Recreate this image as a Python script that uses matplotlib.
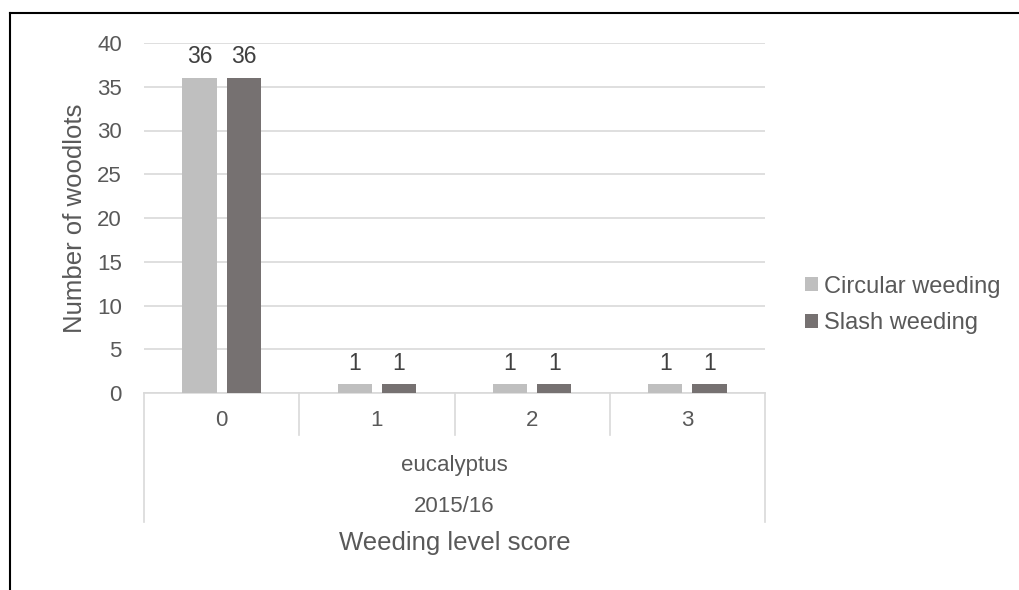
import matplotlib
matplotlib.use('Agg')
import matplotlib.pyplot as plt
import numpy as np

# data
scores = ['0', '1', '2', '3']
circular = [36, 1, 1, 1]
slash = [36, 1, 1, 1]
series_names = ['Circular weeding', 'Slash weeding']
group_label = 'eucalyptus'
year_label = '2015/16'

plt.rcParams['font.family'] = ['Liberation Sans', 'DejaVu Sans']
txt = '#595959'
c_light = '#BFBFBF'
c_dark = '#767171'

W, H = 1020, 590
fig = plt.figure(figsize=(W/100, H/100), dpi=100)

def fx(px): return px / W
def fy(py): return 1 - py / H

# outer frame lines (top and left only)
fig.add_artist(plt.Line2D([fx(10), fx(1020)], [fy(13), fy(13)], color='black', lw=1.5))
fig.add_artist(plt.Line2D([fx(10), fx(10)], [fy(13), fy(590)], color='black', lw=1.5))

x0, x1, ytop, ybot = 144, 765, 43, 393
ax = fig.add_axes([fx(x0), fy(ybot), fx(x1) - fx(x0), fy(ytop) - fy(ybot)])

x = np.arange(len(scores))
bw = 0.22
gap = 0.065
ax.bar(x - (bw + gap)/2, circular, bw, color=c_light, label=series_names[0], zorder=3)
ax.bar(x + (bw + gap)/2, slash, bw, color=c_dark, label=series_names[1], zorder=3)
for xi, v in zip(x, circular):
    ax.text(xi - (bw + gap)/2, v + 1.1, str(v), ha='center', va='bottom', fontsize=16.5, color='#404040')
for xi, v in zip(x, slash):
    ax.text(xi + (bw + gap)/2, v + 1.1, str(v), ha='center', va='bottom', fontsize=16.5, color='#404040')

ax.set_xlim(-0.5, len(scores) - 0.5)
ax.set_ylim(0, 40)
ax.set_yticks(range(0, 41, 5))
ax.tick_params(axis='y', length=0, labelsize=16, labelcolor=txt, pad=16)
ax.set_xticks([])
ax.yaxis.grid(True, color='#D9D9D9', lw=1.2, zorder=0)
for s in ['top', 'right', 'left']:
    ax.spines[s].set_visible(False)
ax.spines['bottom'].set_color('#D9D9D9')
ax.spines['bottom'].set_linewidth(1.2)
ax.set_ylabel('Number of woodlots', fontsize=18.5, color=txt, labelpad=7)

# multi-level category axis
bounds = np.linspace(x0, x1, len(scores) + 1)
for i, b in enumerate(bounds):
    yb = 522 if i in (0, len(bounds) - 1) else 435
    fig.add_artist(plt.Line2D([fx(b), fx(b)], [fy(ybot), fy(yb)], color='#D9D9D9', lw=1.2))
for i, s in enumerate(scores):
    fig.text(fx((bounds[i] + bounds[i+1]) / 2), fy(421), s, ha='center', va='center', fontsize=16, color=txt)
fig.text(fx((x0 + x1) / 2), fy(465), group_label, ha='center', va='center', fontsize=16, color=txt)
fig.text(fx((x0 + x1) / 2), fy(507), year_label, ha='center', va='center', fontsize=16, color=txt)
fig.text(fx((x0 + x1) / 2), fy(543), 'Weeding level score', ha='center', va='center', fontsize=18.5, color=txt)

leg = fig.legend(loc='center left', bbox_to_anchor=(fx(805), fy(305)), frameon=False,
                 fontsize=17, labelcolor=txt, handlelength=0.55, handleheight=0.55,
                 handletextpad=0.25, labelspacing=0.62, borderpad=0, borderaxespad=0)

fig.savefig('out.png', dpi=100)
